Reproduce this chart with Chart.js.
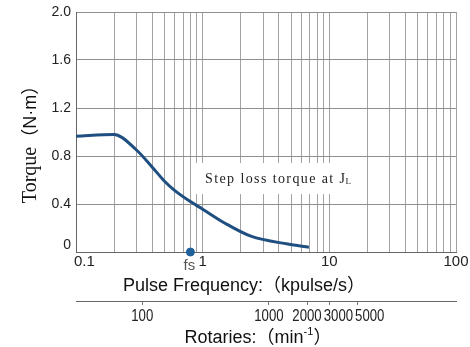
<!DOCTYPE html>
<html>
<head>
<meta charset="utf-8">
<script src="https://cdn.jsdelivr.net/npm/chart.js@4/dist/chart.umd.min.js"></script>
<style>
    html, body { margin: 0; padding: 0; background: #ffffff; }
    #wrap { width: 470px; height: 347px; }
</style>
</head>
<body>
<div id="wrap"><canvas id="torqueChart" width="470" height="347"></canvas></div>
<script>
// ======================== Data ========================

const freqKpps = [0.1, 0.2, 0.3, 0.4, 0.5, 0.6, 0.8, 1.0, 1.5, 2.4, 4.7, 6.9];
const torqueNm = [0.965, 0.98, 0.85, 0.707, 0.59, 0.514, 0.42, 0.357, 0.24, 0.132, 0.066, 0.04];
const fsKpps = [0.8];

const freqDecades = [0.1, 1, 10, 100];
const torqueTicks = [0, 0.4, 0.8, 1.2, 1.6, 2.0];
const rpmTicks = [100, 1000, 2000, 3000, 5000];

// 1.8 deg stepper: 200 pulses per revolution
const PULSES_PER_REV = 200;
const kppsToRpm = f => f * 1000 * 60 / PULSES_PER_REV;

const SANS = "'Liberation Sans', Arial, sans-serif";
const SANS_CJK = "'Liberation Sans', 'Noto Sans CJK SC', sans-serif";
const NARROW_X = 0.8; // horizontal squeeze for the condensed rpm labels

// ======================== Helpers ========================

// all the 1..9 gridlines between the first and last decade
function logGridTicks(decades) {
    const ticks = [];
    for (let i = 0; i < decades.length - 1; i++) {
        for (let k = 1; k <= 9; k++) {
            ticks.push({ value: Number((decades[i] * k).toPrecision(3)) });
        }
    }
    ticks.push({ value: decades[decades.length - 1] });
    return ticks;
}

// ======================== Titles / annotation plugin ========================

const labelsPlugin = {
    id: 'labels',
    afterDraw(chart) {
        const ctx = chart.ctx;
        const x = chart.scales.x;
        const x2 = chart.scales.x2;

        // y title, rotated: serif "Torque" + sans unit
        ctx.save();
        ctx.translate(31, 140);
        ctx.rotate(-Math.PI / 2);
        ctx.fillStyle = '#111';
        ctx.textBaseline = 'middle';
        ctx.font = "20px 'Liberation Serif', serif";
        const w1 = ctx.measureText('Torque').width;
        ctx.font = "18px " + SANS_CJK;
        const w2 = ctx.measureText('（N·m）').width;
        const start = -(w1 + w2) / 2;
        ctx.font = "20px 'Liberation Serif', serif";
        ctx.textAlign = 'left';
        ctx.fillText('Torque', start, 0);
        ctx.font = "18px " + SANS_CJK;
        ctx.fillText('（N·m）', start + w1, 0);
        ctx.restore();

        // rpm labels: condensed, pushed right when they would overlap
        ctx.save();
        ctx.font = "16.5px " + SANS;
        ctx.fillStyle = '#222';
        ctx.textAlign = 'center';
        ctx.textBaseline = 'alphabetic';
        let prevRight = -Infinity;
        rpmTicks.forEach(v => {
            const label = String(v);
            const w = ctx.measureText(label).width * NARROW_X;
            let cx = x2.getPixelForValue(v);
            if (cx - w / 2 < prevRight + 2) cx = prevRight + 2 + w / 2;
            ctx.save();
            ctx.translate(cx, 321);
            ctx.scale(NARROW_X, 1);
            ctx.fillText(label, 0, 0);
            ctx.restore();
            prevRight = cx + w / 2;
        });
        ctx.restore();

        // x title
        ctx.save();
        ctx.fillStyle = '#111';
        ctx.font = "18px " + SANS_CJK;
        ctx.textAlign = 'center';
        ctx.textBaseline = 'alphabetic';
        ctx.fillText('Pulse Frequency:（kpulse/s）', 244, 291);

        // rotaries title with superscript -1
        const a = 'Rotaries:（min';
        const sup = '-1';
        const b = '）';
        ctx.font = "18px " + SANS_CJK;
        const wa = ctx.measureText(a).width;
        const wb = ctx.measureText(b).width;
        ctx.font = "11px " + SANS_CJK;
        const ws = ctx.measureText(sup).width;
        const left = 258 - (wa + ws + wb) / 2;
        ctx.textAlign = 'left';
        ctx.font = "18px " + SANS_CJK;
        ctx.fillText(a, left, 343);
        ctx.font = "11px " + SANS_CJK;
        ctx.fillText(sup, left + wa, 335);
        ctx.font = "18px " + SANS_CJK;
        ctx.fillText(b, left + wa + ws, 343);
        ctx.restore();

        // fs marker label
        ctx.save();
        ctx.fillStyle = '#555';
        ctx.font = "15px " + SANS;
        ctx.textAlign = 'center';
        ctx.textBaseline = 'alphabetic';
        ctx.fillText('fs', x.getPixelForValue(fsKpps[0]) - 1, 270);
        ctx.restore();

        // "Step loss torque at JL" on a white box
        ctx.save();
        ctx.fillStyle = '#ffffff';
        ctx.fillRect(196, 163, 168, 31);
        ctx.fillStyle = '#222';
        ctx.font = "14px 'Liberation Serif', serif";
        ctx.letterSpacing = '1.4px';
        ctx.textAlign = 'left';
        ctx.textBaseline = 'alphabetic';
        const txt = 'Step loss torque at J';
        ctx.fillText(txt, 205, 183);
        const wt = ctx.measureText(txt).width;
        ctx.font = "9px 'Liberation Serif', serif";
        ctx.letterSpacing = '0px';
        ctx.fillText('L', 205 + wt - 1, 184);
        ctx.restore();
    }
};

// ======================== Chart ========================

const ctx = document.getElementById('torqueChart').getContext('2d');

new Chart(ctx, {
    type: 'line',
    data: {
        datasets: [{
            label: 'Step loss torque',
            data: freqKpps.map((f, i) => ({ x: f, y: torqueNm[i] })),
            borderColor: '#1f4f80',
            borderWidth: 3,
            pointRadius: 0,
            fill: false,
            cubicInterpolationMode: 'monotone'
        }, {
            label: 'fs',
            data: fsKpps.map(f => ({ x: f, y: 0 })),
            showLine: false,
            pointRadius: 4,
            pointBackgroundColor: '#1f5f9a',
            pointBorderColor: '#1f5f9a',
            clip: false
        }]
    },
    options: {
        responsive: false,
        animation: false,
        layout: { padding: { top: 11, right: 14, bottom: 0, left: 0 } },
        plugins: {
            legend: { display: false },
            tooltip: { enabled: false }
        },
        scales: {
            x: {
                type: 'logarithmic',
                position: 'bottom',
                min: freqDecades[0],
                max: freqDecades[freqDecades.length - 1],
                afterBuildTicks: scale => { scale.ticks = logGridTicks(freqDecades); },
                afterFit: scale => { scale.height = 49; },
                grid: { color: '#a3a3a3', lineWidth: 1, drawTicks: false },
                border: { color: '#666', width: 1 },
                ticks: {
                    autoSkip: false,
                    maxRotation: 0,
                    padding: 1,
                    color: '#222',
                    font: { family: SANS, size: 15 },
                    callback: v => {
                        if (!freqDecades.includes(v)) return '';
                        return v === freqDecades[0] ? '\u00a0\u00a0\u00a0\u00a0' + v : String(v);
                    }
                }
            },
            x2: {
                type: 'logarithmic',
                position: 'bottom',
                min: kppsToRpm(freqDecades[0]),
                max: kppsToRpm(freqDecades[freqDecades.length - 1]),
                afterBuildTicks: scale => { scale.ticks = rpmTicks.map(v => ({ value: v })); },
                afterFit: scale => { scale.height = 46; },
                grid: { drawOnChartArea: false, color: '#777', tickLength: 4 },
                border: { display: true, color: '#666', width: 1 },
                ticks: { display: false, autoSkip: false }
            },
            y: {
                type: 'linear',
                min: torqueTicks[0],
                max: torqueTicks[torqueTicks.length - 1],
                afterBuildTicks: scale => { scale.ticks = torqueTicks.map(v => ({ value: v })); },
                afterFit: scale => { scale.width = 76; },
                grid: { color: '#8f8f8f', lineWidth: 1, drawTicks: false },
                border: { color: '#666', width: 1 },
                ticks: {
                    padding: 5,
                    color: '#222',
                    font: { family: SANS, size: 14, lineHeight: 1 },
                    callback: v => v === 0 ? ['0', ''] : v.toFixed(1)
                }
            }
        }
    },
    plugins: [labelsPlugin]
});
</script>
</body>
</html>
